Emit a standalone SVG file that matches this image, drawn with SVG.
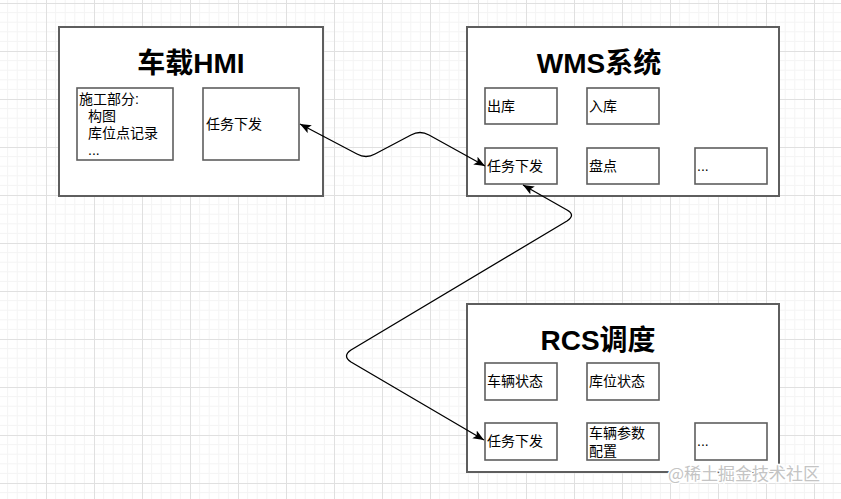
<svg xmlns="http://www.w3.org/2000/svg" width="841" height="499" viewBox="0 0 841 499">
  <defs>
    <pattern id="grid" x="46" y="3" width="48" height="48" patternUnits="userSpaceOnUse">
      <path d="M9.6,0V48M19.2,0V48M28.8,0V48M38.4,0V48M0,9.6H48M0,19.2H48M0,28.8H48M0,38.4H48" stroke="#f4f4f4" stroke-width="1" fill="none"/>
      <path d="M0.5,0V48M0,0.5H48" stroke="#e0e0e0" stroke-width="1" fill="none"/>
    </pattern>
    <marker id="arr" markerUnits="userSpaceOnUse" markerWidth="12" markerHeight="10" refX="11" refY="4.5" orient="auto-start-reverse" viewBox="0 0 12 10">
      <path d="M0,0 L11,4.5 L0,9 L2.5,4.5 Z" fill="#000"/>
    </marker>
    <style>
      .outer { fill: #fff; stroke: #5e5e5e; stroke-width: 2; }
      .inner { fill: #fff; stroke: #5e5e5e; stroke-width: 1.6; }
      .title { font-family: "Liberation Sans", "Noto Sans CJK SC", sans-serif; font-size: 28px; font-weight: bold; fill: #000; text-anchor: middle; }
      .lbl { font-family: "Liberation Sans", "Noto Sans CJK SC", sans-serif; font-size: 14px; fill: #000; }
      .edge { fill: none; stroke: #000; stroke-width: 1.3; marker-start: url(#arr); marker-end: url(#arr); }
      .wm { font-family: "Noto Sans CJK SC", sans-serif; font-size: 17px; fill: #c4c4c4; stroke: #fff; stroke-width: 3; paint-order: stroke; }
    </style>
  </defs>
  <rect width="841" height="499" fill="#fff"/>
  <rect width="841" height="499" fill="url(#grid)"/>

  <g id="hmi">
    <rect class="outer" x="59" y="27" width="264" height="169"/>
    <text class="title" x="191" y="73">车载HMI</text>
    <g id="hmi-parts">
      <rect class="inner" x="77" y="88" width="96" height="72"/>
      <text class="lbl"><tspan x="79" y="104">施工部分:</tspan><tspan x="88" y="121">构图</tspan><tspan x="88" y="138">库位点记录</tspan><tspan x="88" y="155">...</tspan></text>
    </g>
    <g id="hmi-task">
      <rect class="inner" x="203" y="88" width="96" height="72"/>
      <text class="lbl" x="206" y="129">任务下发</text>
    </g>
  </g>

  <g id="wms">
    <rect class="outer" x="467" y="27" width="312" height="169"/>
    <text class="title" x="599" y="73">WMS系统</text>
    <g id="wms-out"><rect class="inner" x="485" y="88" width="72" height="36"/><text class="lbl" x="487" y="111">出库</text></g>
    <g id="wms-in"><rect class="inner" x="587" y="88" width="72" height="36"/><text class="lbl" x="589" y="111">入库</text></g>
    <g id="wms-task"><rect class="inner" x="485" y="148" width="72" height="36"/><text class="lbl" x="487" y="171">任务下发</text></g>
    <g id="wms-check"><rect class="inner" x="587" y="148" width="72" height="36"/><text class="lbl" x="589" y="171">盘点</text></g>
    <g id="wms-more"><rect class="inner" x="695" y="148" width="72" height="36"/><text class="lbl" x="697" y="171">...</text></g>
  </g>

  <g id="rcs">
    <rect class="outer" x="467" y="304" width="312" height="168"/>
    <text class="title" x="598" y="350">RCS调度</text>
    <g id="rcs-vstate"><rect class="inner" x="485" y="363" width="72" height="37"/><text class="lbl" x="487" y="386">车辆状态</text></g>
    <g id="rcs-lstate"><rect class="inner" x="587" y="363" width="72" height="37"/><text class="lbl" x="589" y="386">库位状态</text></g>
    <g id="rcs-task"><rect class="inner" x="485" y="423" width="72" height="37"/><text class="lbl" x="487" y="446">任务下发</text></g>
    <g id="rcs-param"><rect class="inner" x="587" y="423" width="72" height="37"/><text class="lbl"><tspan x="589" y="438">车辆参数</tspan><tspan x="589" y="456">配置</tspan></text></g>
    <g id="rcs-more"><rect class="inner" x="695" y="423" width="72" height="37"/><text class="lbl" x="697" y="446">...</text></g>
  </g>

  <g id="connectors">
    <path class="edge" d="M300,124 L357,154 Q366,159 375,154 L411,135 Q420,130 429,135 L485,166"/>
    <path class="edge" d="M523,185 L567,210 Q576,215 567,221 L351,350 Q342,356 351,362 L484,440"/>
  </g>

  <text class="wm" x="668" y="480">@稀土掘金技术社区</text>
</svg>
